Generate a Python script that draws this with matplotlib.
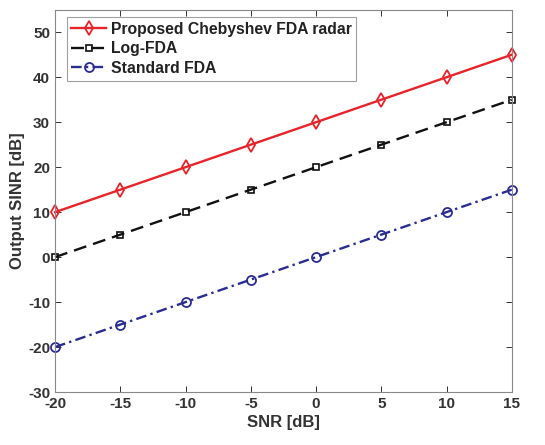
import matplotlib
matplotlib.use("Agg")
import matplotlib.pyplot as plt

snr = [-20, -15, -10, -5, 0, 5, 10, 15]
chebyshev = [10, 15, 20, 25, 30, 35, 40, 45]
log_fda = [0, 5, 10, 15, 20, 25, 30, 35]
standard = [-20, -15, -10, -5, 0, 5, 10, 15]
xticks = [-20, -15, -10, -5, 0, 5, 10, 15]
yticks = [-30, -20, -10, 0, 10, 20, 30, 40, 50]

plt.rcParams['font.family'] = ['Liberation Sans', 'DejaVu Sans']
plt.rcParams['font.weight'] = 'bold'
plt.rcParams['axes.unicode_minus'] = False

fig = plt.figure(figsize=(5.45, 4.45), dpi=100)
ax = fig.add_axes([0.101, 0.119, 0.838, 0.859])

ax.plot(snr, chebyshev, '-', color='#e8232a', lw=1.7, marker='d', ms=7,
        mfc='none', mec='#e8232a', mew=1.3, label='Proposed Chebyshev FDA radar',
        clip_on=False)
ax.plot(snr, log_fda, '--', color='#111111', lw=1.7, marker='s', ms=5,
        mfc='none', mec='#111111', mew=1.2, label='Log-FDA', dashes=(5.5, 3),
        clip_on=False)
ax.plot(snr, standard, '-.', color='#2a2d92', lw=1.7, marker='o', ms=6.5,
        mfc='none', mec='#2a2d92', mew=1.3, label='Standard FDA',
        dashes=(4.5, 1.8, 1.0, 1.8), clip_on=False)

ax.set_xlim(-20, 15)
ax.set_ylim(-30, 55)
ax.set_xticks(xticks)
ax.set_yticks(yticks)
ax.tick_params(direction='in', top=True, right=True, labelsize=11,
               colors='#333333', length=4, width=0.7)
for lab in ax.get_xticklabels() + ax.get_yticklabels():
    lab.set_fontweight('bold')
for s in ax.spines.values():
    s.set_color('#888888')
    s.set_linewidth(0.8)

ax.set_xlabel('SNR [dB]', fontsize=12, fontweight='bold', color='#333333', labelpad=3)
ax.set_ylabel('Output SINR [dB]', fontsize=12, fontweight='bold', color='#333333', labelpad=2)

leg = ax.legend(loc='upper left', bbox_to_anchor=(0.01, 1.0), frameon=True, fancybox=False,
                edgecolor='#888888', borderpad=0.3, labelspacing=0.3,
                handlelength=2.2, handletextpad=0.3, borderaxespad=0.45,
                prop={'weight': 'bold', 'size': 11.3})
leg.get_frame().set_linewidth(0.8)
for t in leg.get_texts():
    t.set_color('#222222')

fig.canvas.draw()
# widen the frame slightly so the bold text keeps a right margin
frame = leg.get_frame()
frame.set_width(frame.get_width() + 6)

fig.savefig('out.png', dpi=100)
